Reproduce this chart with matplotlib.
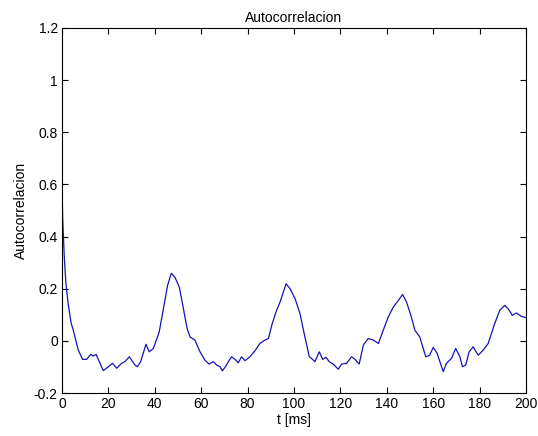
import matplotlib
matplotlib.use('Agg')
import matplotlib.pyplot as plt
import numpy as np

# autocorrelation (t in ms)
t_ms = [0, 0.3, 1.0, 1.7, 2.7, 3.9, 4.9, 7.0, 8.9, 10.6, 12.4, 13.5, 14.7, 16.1,
        17.8, 20.0, 21.8, 23.6, 25.7, 27.1, 29.0, 30.0, 31.5, 32.5, 33.9, 35.0,
        36.2, 37.6, 39.4, 41.9, 44.1, 45.5, 47.1, 48.7, 50.6, 52.0, 53.0, 54.0,
        55.2, 57.3, 59.5, 61.6, 63.4, 65.3, 66.7, 68.1, 69.1, 70.5, 71.7, 73.1,
        74.6, 76.0, 77.4, 78.9, 81.0, 83.2, 85.3, 87.5, 89.0, 90.6, 92.5, 94.0,
        96.6, 98.3, 100.5, 102.6, 104.7, 106.6, 108.0, 109.0, 110.9, 112.4,
        113.8, 115.2, 116.9, 119.1, 120.5, 122.7, 124.8, 126.3, 128.1, 129.9,
        132.0, 134.2, 136.4, 138.2, 140.6, 142.8, 145.0, 146.8, 148.5, 150.6,
        152.1, 154.2, 156.8, 158.5, 160.0, 161.7, 164.3, 165.7, 167.9, 169.7,
        171.5, 172.6, 174.0, 175.5, 177.2, 179.4, 181.5, 183.7, 186.5, 188.7,
        190.8, 192.3, 194.1, 195.9, 198.0, 200.0]
autocorr = [0.606, 0.47, 0.32, 0.22, 0.14, 0.07, 0.04, -0.035, -0.071, -0.071,
            -0.052, -0.058, -0.052, -0.080, -0.114, -0.099, -0.086, -0.105,
            -0.086, -0.080, -0.061, -0.074, -0.093, -0.099, -0.080, -0.048,
            -0.013, -0.042, -0.029, 0.034, 0.142, 0.212, 0.259, 0.244, 0.205,
            0.14, 0.091, 0.045, 0.015, 0.003, -0.042, -0.074, -0.089, -0.080,
            -0.093, -0.099, -0.115, -0.099, -0.080, -0.061, -0.071, -0.084,
            -0.061, -0.076, -0.061, -0.038, -0.010, 0.003, 0.009, 0.066, 0.117,
            0.149, 0.219, 0.2, 0.161, 0.104, 0.015, -0.061, -0.071, -0.080,
            -0.042, -0.071, -0.063, -0.080, -0.089, -0.109, -0.089, -0.086,
            -0.061, -0.071, -0.089, -0.016, 0.009, 0.003, -0.010, 0.034, 0.091,
            0.130, 0.155, 0.178, 0.149, 0.091, 0.041, 0.015, -0.061, -0.055,
            -0.025, -0.048, -0.118, -0.086, -0.067, -0.029, -0.061, -0.099,
            -0.093, -0.042, -0.023, -0.055, -0.036, -0.01, 0.066, 0.117, 0.136,
            0.123, 0.098, 0.107, 0.094, 0.089]

x_ticks = [0, 20, 40, 60, 80, 100, 120, 140, 160, 180, 200]
y_ticks = [-0.2, 0, 0.2, 0.4, 0.6, 0.8, 1, 1.2]
y_labels = ['-0.2', '0', '0.2', '0.4', '0.6', '0.8', '1', '1.2']

plt.rcParams['font.family'] = ['Liberation Sans', 'DejaVu Sans']
plt.rcParams['font.size'] = 10

fig = plt.figure(figsize=(5.38, 4.36), dpi=100)
ax = fig.add_axes([0.1152, 0.0986, 0.8625, 0.8372])

ax.plot(t_ms, autocorr, color='#1414b4', linewidth=0.9)

ax.set_xlim(0, 200)
ax.set_ylim(-0.2, 1.2)
ax.set_xticks(x_ticks)
ax.set_yticks(y_ticks)
ax.set_yticklabels(y_labels)
ax.tick_params(direction='in', top=True, right=True, length=4, width=0.8,
               labelsize=10, pad=3)
for s in ax.spines.values():
    s.set_linewidth(0.8)

ax.set_title('Autocorrelacion', fontsize=10, pad=4)
ax.set_xlabel('t [ms]', fontsize=10, labelpad=1)
ax.set_ylabel('Autocorrelacion', fontsize=10, labelpad=4)

fig.savefig('out.png', dpi=100)
